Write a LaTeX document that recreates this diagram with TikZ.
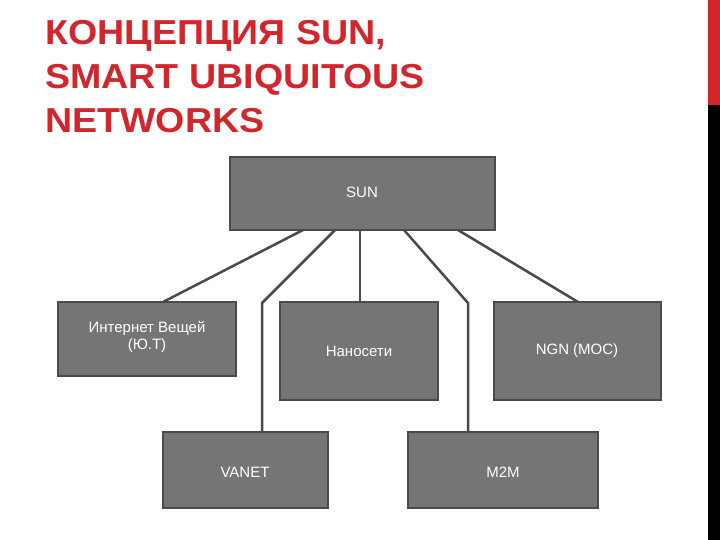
\documentclass[tikz,border=0pt]{standalone}
\usepackage{fontspec}
\setmainfont{Liberation Sans}
\definecolor{tred}{HTML}{D0262C}
\definecolor{boxg}{HTML}{757575}
\definecolor{edg}{HTML}{4A4A4A}
\begin{document}
\begin{tikzpicture}[x=1pt,y=-1pt,
  box/.style={draw=edg,line width=1.5pt,fill=boxg},
  lbl/.style={text=white,font=\fontsize{15}{17}\selectfont,align=center},
  conn/.style={draw=edg,line width=2.5pt}]
\useasboundingbox (0,0) rectangle (720,540);
\fill[tred] (708,0) rectangle (720,105);
\fill[black] (708,105) rectangle (720,540);
\node[anchor=north west,text=tred,align=left,font=\bfseries\fontsize{33}{42}\selectfont,inner sep=0pt,xscale=1.14,yscale=1.05] (title) at (45,20) {КОНЦЕПЦИЯ SUN,\\SMART UBIQUITOUS\\NETWORKS};
\path[box] (230,157) rectangle (495,230);
\node[lbl] (sun) at (362,192) {SUN};
\coordinate (s1) at (303,230); \coordinate (s2) at (335,230); \coordinate (s3) at (360,230); \coordinate (s4) at (404,230); \coordinate (s5) at (458,230);
\coordinate (t1) at (163,302); \coordinate (b2) at (262,303); \coordinate (t2) at (262,432);
\coordinate (t3) at (360,302); \coordinate (b4) at (468,303); \coordinate (t4) at (468,432); \coordinate (t5) at (578,302);
\draw[conn] (s1) -- (t1);
\draw[conn] (s2) -- (b2) -- (t2);
\draw[conn] (s3) -- (t3);
\draw[conn] (s4) -- (b4) -- (t4);
\draw[conn] (s5) -- (t5);
\path[box] (58,302) rectangle (236,376);
\node[lbl] (iot) at (147,337) {Интернет Вещей\\(Ю.Т)};
\path[box] (280,302) rectangle (438,400);
\node[lbl] (nano) at (359,351) {Наносети};
\path[box] (494,302) rectangle (661,400);
\node[lbl] (ngn) at (577,351) {NGN (МОС)};
\path[box] (163,432) rectangle (328,508);
\node[lbl] (vanet) at (245,472) {VANET};
\path[box] (408,432) rectangle (598,508);
\node[lbl] (m2m) at (503,472) {M2M};
\end{tikzpicture}
\end{document}
